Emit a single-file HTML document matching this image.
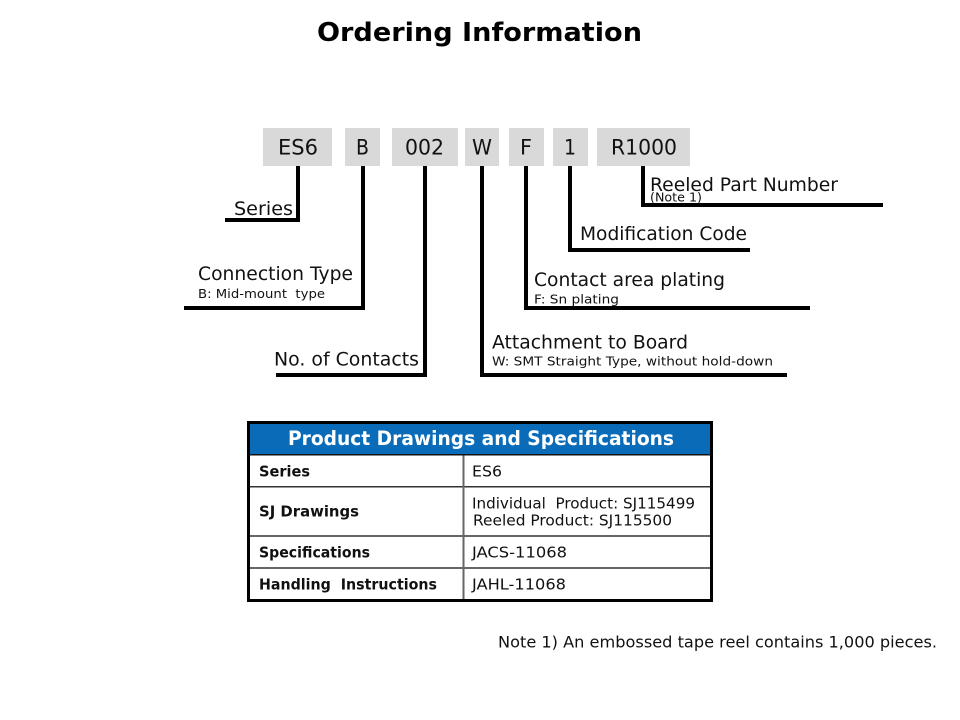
<!DOCTYPE html>
<html><head><meta charset="utf-8"><style>
html,body{margin:0;padding:0;background:#fff;width:960px;height:720px;overflow:hidden}
svg{display:block}
text{font-family:"DejaVu Sans","Liberation Sans",sans-serif;fill:#111}
.b{font-weight:bold}
</style></head><body>
<svg width="960" height="720" viewBox="0 0 960 720" xmlns="http://www.w3.org/2000/svg">
<rect width="960" height="720" fill="#fff"/>
<text class="b" x="317" y="41" font-size="26" textLength="325" lengthAdjust="spacingAndGlyphs" style="fill:#000">Ordering Information</text>
<g fill="#d9d9d9">
<rect x="263" y="128" width="69" height="38"/>
<rect x="345" y="128" width="35" height="38"/>
<rect x="392" y="128" width="66" height="38"/>
<rect x="465" y="128" width="34" height="38"/>
<rect x="509" y="128" width="35" height="38"/>
<rect x="553" y="128" width="35" height="38"/>
<rect x="597" y="128" width="93" height="38"/>
</g>
<g font-size="21.500">
<text x="278" y="154.500" textLength="40" lengthAdjust="spacingAndGlyphs">ES6</text>
<text x="356" y="154.500" textLength="13" lengthAdjust="spacingAndGlyphs">B</text>
<text x="405" y="154.500" textLength="39" lengthAdjust="spacingAndGlyphs">002</text>
<text x="472" y="154.500" textLength="20" lengthAdjust="spacingAndGlyphs">W</text>
<text x="520" y="154.500" textLength="12" lengthAdjust="spacingAndGlyphs">F</text>
<text x="564" y="154.500" textLength="12" lengthAdjust="spacingAndGlyphs">1</text>
<text x="611" y="154.500" textLength="66" lengthAdjust="spacingAndGlyphs">R1000</text>
</g>
<g fill="#000">
<rect x="296" y="166" width="4" height="56"/><rect x="225" y="218" width="75" height="4"/>
<rect x="361" y="166" width="4" height="144"/><rect x="184" y="306" width="181" height="4"/>
<rect x="423" y="166" width="4" height="211"/><rect x="276" y="373" width="151" height="4"/>
<rect x="480" y="166" width="4" height="211"/><rect x="480" y="373" width="307" height="4"/>
<rect x="524" y="166" width="4" height="144"/><rect x="524" y="306" width="286" height="4"/>
<rect x="568" y="166" width="4" height="86"/><rect x="568" y="248" width="182" height="4"/>
<rect x="641" y="166" width="4" height="41"/><rect x="641" y="203" width="242" height="4"/>
</g>
<g font-size="19">
<text x="234" y="215" textLength="59" lengthAdjust="spacingAndGlyphs">Series</text>
<text x="198" y="280" textLength="155" lengthAdjust="spacingAndGlyphs">Connection Type</text>
<text x="274" y="365.500" textLength="145" lengthAdjust="spacingAndGlyphs">No. of Contacts</text>
<text x="492" y="348.500" textLength="196" lengthAdjust="spacingAndGlyphs">Attachment to Board</text>
<text x="534" y="286" textLength="191" lengthAdjust="spacingAndGlyphs">Contact area plating</text>
<text x="580" y="240" textLength="167" lengthAdjust="spacingAndGlyphs">Modification Code</text>
<text x="650" y="191" textLength="188" lengthAdjust="spacingAndGlyphs">Reeled Part Number</text>
</g>
<g font-size="12.500">
<text x="198" y="298" textLength="127" lengthAdjust="spacingAndGlyphs">B: Mid-mount&#160; type</text>
<text x="492" y="365.500" textLength="281" lengthAdjust="spacingAndGlyphs">W: SMT Straight Type, without hold-down</text>
<text x="534" y="303.500" textLength="85" lengthAdjust="spacingAndGlyphs">F: Sn plating</text>
<text x="650" y="201.500" textLength="52" lengthAdjust="spacingAndGlyphs">(Note 1)</text>
</g>
<rect x="249" y="423" width="462" height="177" fill="#fff"/>
<rect x="249" y="423" width="462" height="32" fill="#0a6cb9"/>
<g fill="#666">
<rect x="249" y="486" width="462" height="1.500" fill="#333"/>
<rect x="249" y="535" width="462" height="2"/>
<rect x="249" y="567" width="462" height="2"/>
<rect x="462.500" y="455" width="2" height="145"/>
</g>
<rect x="248.500" y="422.500" width="463" height="178" fill="none" stroke="#000" stroke-width="3"/>
<rect x="249" y="454" width="462" height="1.500" fill="#111"/>
<text class="b" x="288" y="445" font-size="19.500" textLength="386" lengthAdjust="spacingAndGlyphs" style="fill:#fff">Product Drawings and Specifications</text>
<g font-size="15">
<text class="b" x="259" y="476.500" textLength="51" lengthAdjust="spacingAndGlyphs">Series</text>
<text class="b" x="259" y="516.500" textLength="100" lengthAdjust="spacingAndGlyphs">SJ Drawings</text>
<text class="b" x="259" y="557.500" textLength="111" lengthAdjust="spacingAndGlyphs">Specifications</text>
<text class="b" x="259" y="589.500" textLength="178" lengthAdjust="spacingAndGlyphs">Handling&#160; Instructions</text>
<text x="472" y="476.500" textLength="30" lengthAdjust="spacingAndGlyphs">ES6</text>
<text x="472" y="508.500" textLength="223" lengthAdjust="spacingAndGlyphs">Individual&#160; Product: SJ115499</text>
<text x="473" y="525.500" textLength="199" lengthAdjust="spacingAndGlyphs">Reeled Product: SJ115500</text>
<text x="472" y="557.500" textLength="95" lengthAdjust="spacingAndGlyphs">JACS-11068</text>
<text x="472" y="589.500" textLength="94" lengthAdjust="spacingAndGlyphs">JAHL-11068</text>
</g>
<text x="498" y="647.500" font-size="16" textLength="439" lengthAdjust="spacingAndGlyphs">Note 1) An embossed tape reel contains 1,000 pieces.</text>
</svg>
</body></html>
